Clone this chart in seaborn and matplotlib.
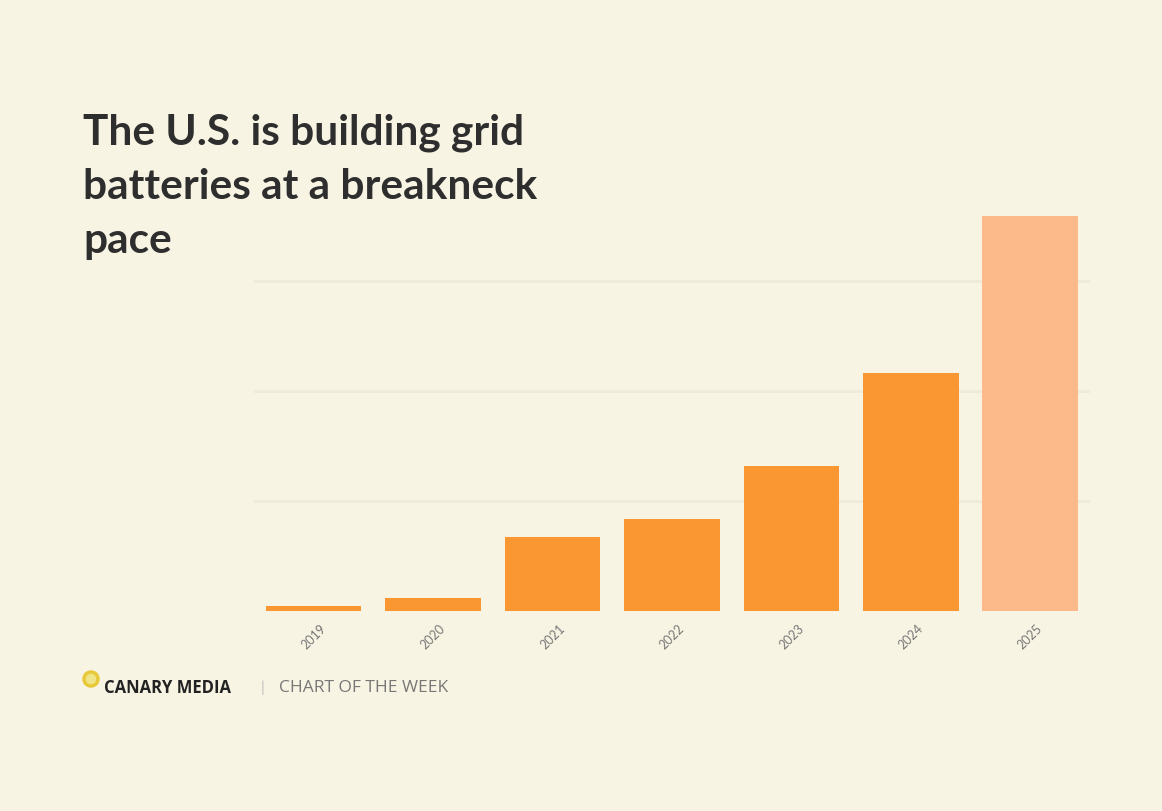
import matplotlib
matplotlib.use("Agg")
import matplotlib.pyplot as plt
from matplotlib.patches import Ellipse
import seaborn as sns
import pandas as pd

years = ["2019", "2020", "2021", "2022", "2023", "2024", "2025"]
values = [0.5, 1.2, 6.7, 8.4, 13.2, 21.6, 35.9]
colors = ["#fb9732"] * 6 + ["#fcb98a"]

bg = "#f8f4e3"
sns.set_theme(style="white")
plt.rcParams['font.family'] = ['Lato', 'DejaVu Sans']

fig = plt.figure(figsize=(11.62, 8.11), dpi=100, facecolor=bg)
ax = fig.add_axes([0.2186, 0.2466, 0.7194, 0.5425], facecolor=bg)
df = pd.DataFrame({"year": years, "value": values})
sns.barplot(data=df, x="year", y="value", hue="year", palette=colors, legend=False,
            width=0.8, saturation=1, ax=ax, zorder=3, linewidth=0)
ax.set_ylim(0, 40)
ax.set_xlim(-0.5, 6.5)
ax.set_yticks([10, 20, 30])
ax.yaxis.grid(True, color="#efebdb", linewidth=2)
ax.set_yticklabels([])
ax.tick_params(axis="y", length=0)
ax.tick_params(axis="x", length=0, labelsize=9, labelcolor="#777777", pad=8)
for lab in ax.get_xticklabels():
    lab.set_rotation(45)
    lab.set_ha("center")
ax.set_xlabel("")
ax.set_ylabel("")
for s in ax.spines.values():
    s.set_visible(False)

fig.text(83/1162, 1 - 114/811, "The U.S. is building grid\nbatteries at a breakneck\npace",
         fontsize=30.5, fontweight="bold", color="#2e2e2e", va="top", ha="left", linespacing=1.5)

fig.patches.append(Ellipse((91/1162, 1 - 679/811), 14/1162, 14/811, transform=fig.transFigure,
                           facecolor="#f1e58a", edgecolor="#e8c93a", linewidth=2.5))
fig.text(104/1162, 1 - 688/811, "CANARY MEDIA", fontsize=12, fontweight="bold",
         color="#222222", va="center", ha="left", family="Open Sans")
fig.text(261/1162, 1 - 688/811, "|", fontsize=11, color="#bbbbbb", va="center", ha="left")
fig.text(279/1162, 1 - 688/811, "CHART OF THE WEEK", fontsize=12.5, color="#777777",
         va="center", ha="left", family="Open Sans")

fig.savefig("out.png", dpi=100, facecolor=bg)
